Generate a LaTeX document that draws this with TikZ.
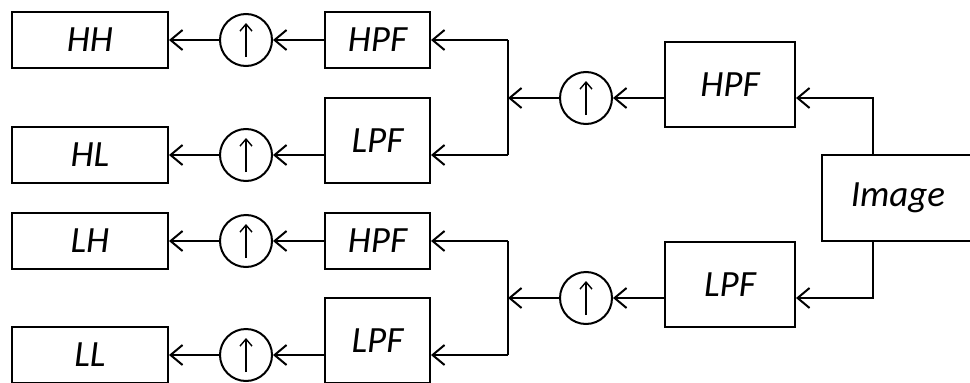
\documentclass[tikz,border=0pt]{standalone}
\usepackage{fontspec}
\setmainfont{Carlito}
\usetikzlibrary{arrows.meta,calc}
\begin{document}
\begin{tikzpicture}[x=1pt,y=-1pt,
  every node/.style={font=\fontsize{37}{40}\selectfont\itshape},
  blk/.style={draw, line width=2pt, rectangle, inner sep=0pt, minimum width=#1},
  outbox/.style={blk=156pt, minimum height=56pt},
  sbox/.style={blk=105pt, minimum height=56pt},
  tbox/.style={blk=105pt, minimum height=85pt},
  bbox/.style={blk=130pt, minimum height=85pt},
  upc/.style={circle, draw, line width=2pt, minimum size=52pt, inner sep=0pt,
    path picture={\draw[line width=1.4pt,-{Straight Barb[length=7pt,width=12pt]}]
      ([yshift=9pt]path picture bounding box.south) -- ([yshift=-9pt]path picture bounding box.north);}},
  arr/.style={line width=2pt, -{Straight Barb[length=12pt,width=20pt]}},
  ln/.style={line width=2pt}]
\useasboundingbox (0,0) rectangle (970,383);
\fill[white] (0,0) rectangle (970,383);
% output column
\node[outbox] (HH) at (90,40) {HH};
\node[outbox] (HL) at (90,155) {HL};
\node[outbox] (LH) at (90,241) {LH};
\node[outbox] (LL) at (90,355) {LL};
% upsampler column 1
\node[upc] (c1) at (246,40) {};
\node[upc] (c2) at (246,155) {};
\node[upc] (c3) at (246,241) {};
\node[upc] (c4) at (246,355) {};
% second-stage filters
\node[sbox] (hpf1) at (377.5,40) {HPF};
\node[tbox] (lpf1) at (377.5,140.5) {LPF};
\node[sbox] (hpf2) at (377.5,241) {HPF};
\node[tbox] (lpf2) at (377.5,340.5) {LPF};
% first-stage
\node[upc] (c5) at (586,98) {};
\node[upc] (c6) at (586,298) {};
\node[bbox] (bh) at (730,84.5) {HPF};
\node[bbox] (bl) at (730,284.5) {LPF};
\node[blk=152pt, minimum height=86pt] (img) at (898,198) {Image};
% junction coordinates
\coordinate (j1t) at (508,40);
\coordinate (j1b) at (508,155);
\coordinate (j2t) at (508,241);
\coordinate (j2b) at (508,355);
\coordinate (tap) at (873,0);
% image to first stage
\draw[arr] (img.north -| tap) |- (bh.east |- c5);
\draw[arr] (img.south -| tap) |- (bl.east |- c6);
\draw[arr] (bh.west |- c5) -- (c5.east);
\draw[arr] (bl.west |- c6) -- (c6.east);
\draw[arr] (c5.west) -- (c5 -| j1t);
\draw[arr] (c6.west) -- (c6 -| j2t);
% split bars
\draw[ln] (j1t) -- (j1b);
\draw[ln] (j2t) -- (j2b);
\draw[arr] (j1t) -- (hpf1.east);
\draw[arr] (j1b) -- (j1b -| lpf1.east);
\draw[arr] (j2t) -- (hpf2.east);
\draw[arr] (j2b) -- (j2b -| lpf2.east);
% second stage to upsamplers
\draw[arr] (hpf1.west) -- (c1.east);
\draw[arr] (lpf1.west |- c2) -- (c2.east);
\draw[arr] (hpf2.west) -- (c3.east);
\draw[arr] (lpf2.west |- c4) -- (c4.east);
% upsamplers to outputs
\draw[arr] (c1.west) -- (HH.east);
\draw[arr] (c2.west) -- (HL.east);
\draw[arr] (c3.west) -- (LH.east);
\draw[arr] (c4.west) -- (LL.east);
\end{tikzpicture}
\end{document}
